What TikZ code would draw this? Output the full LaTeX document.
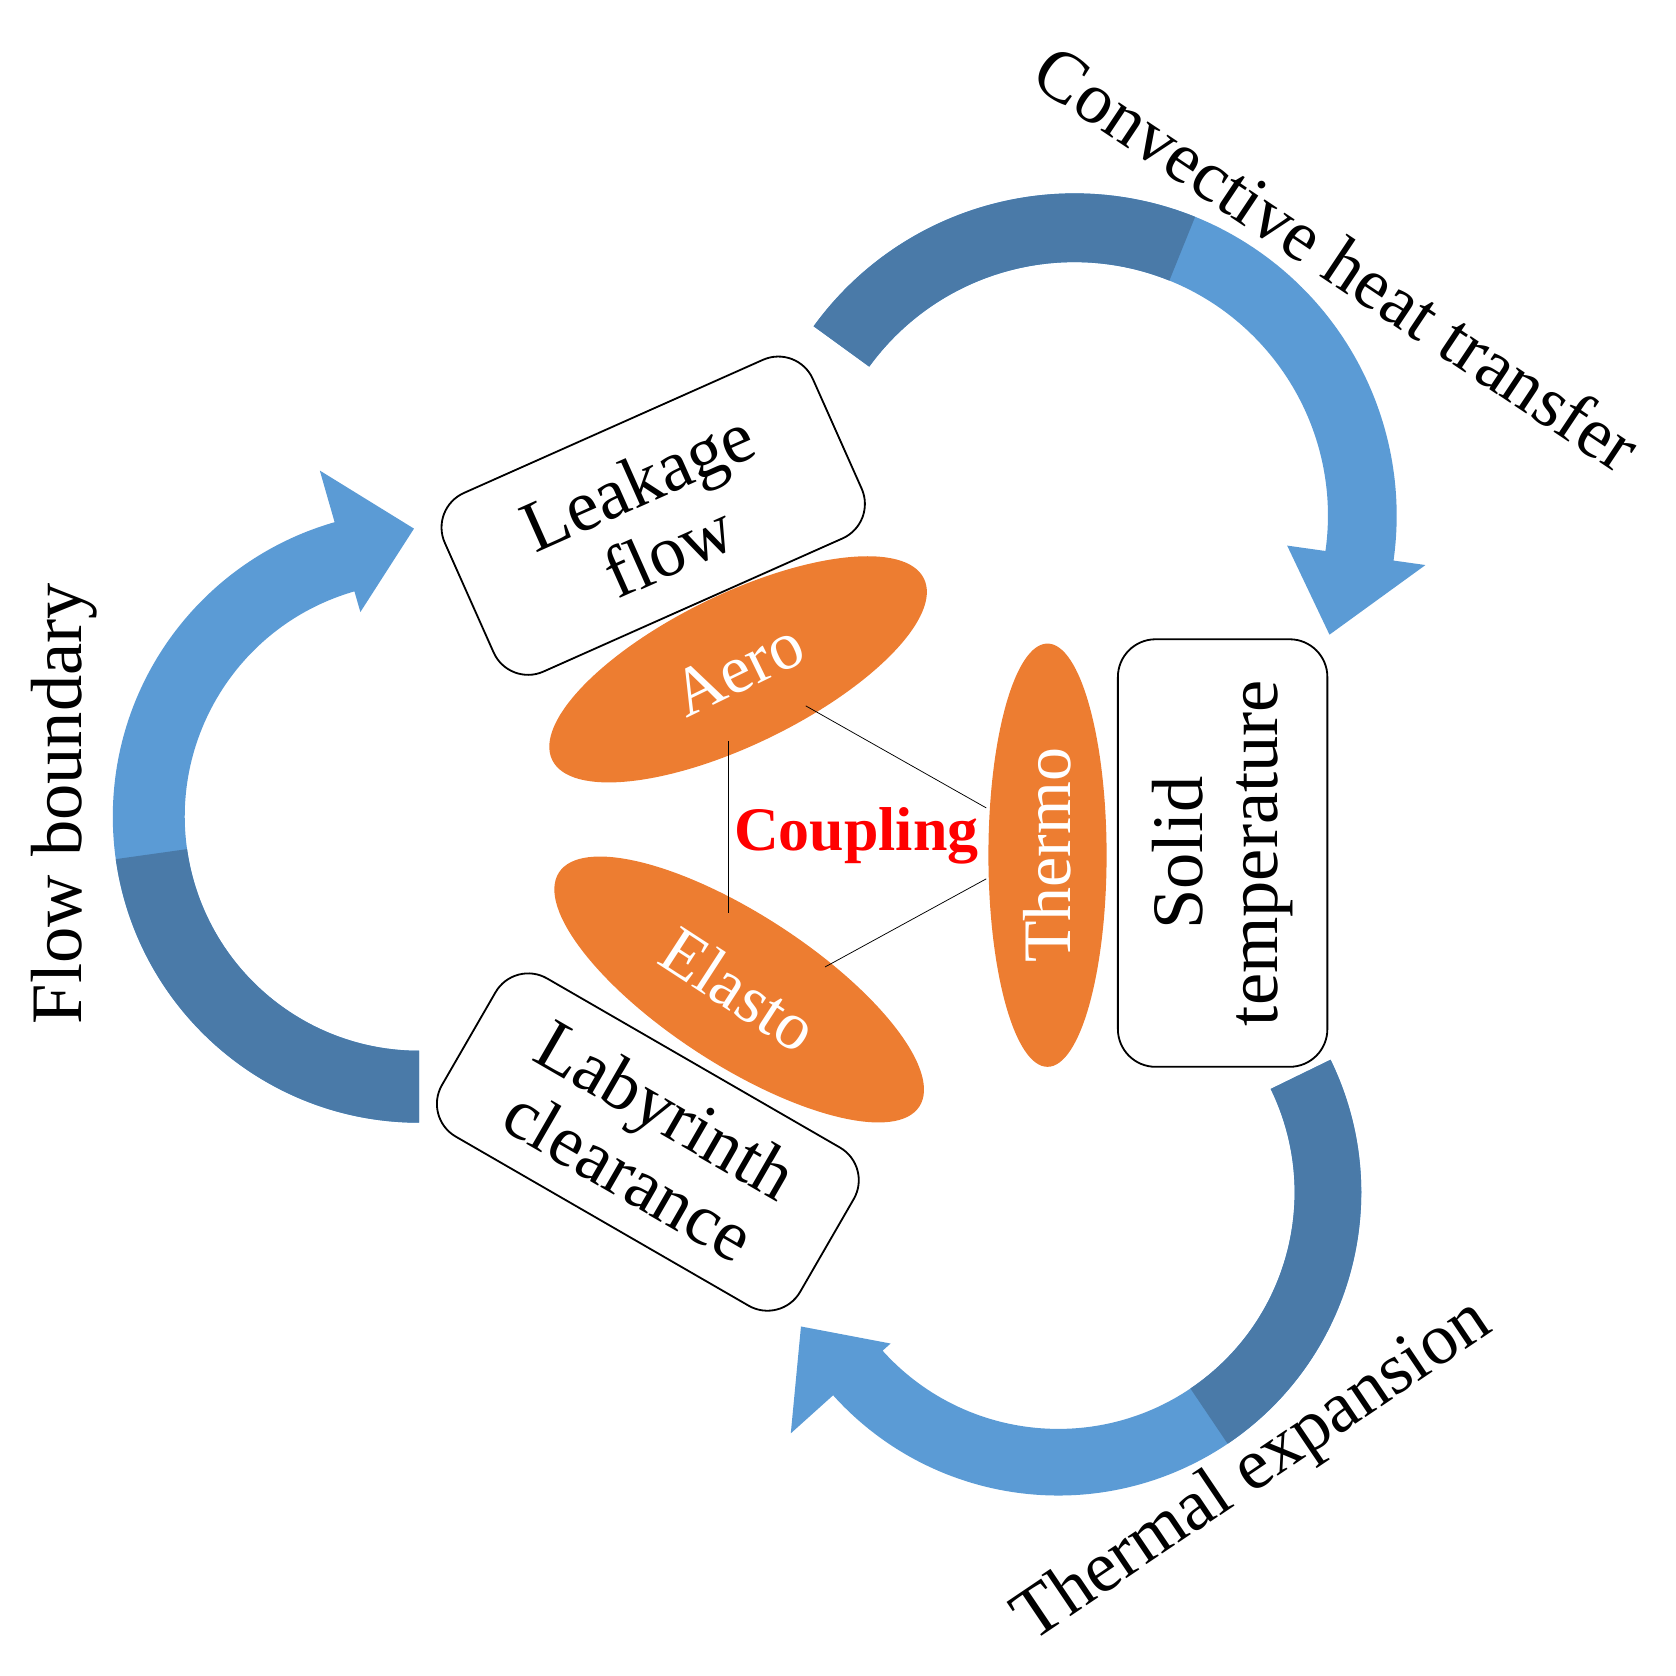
\documentclass[tikz,border=0pt]{standalone}
\usepackage{fontspec}
\setmainfont{Liberation Serif}
\usetikzlibrary{shapes.geometric}
\definecolor{dk}{HTML}{4A7AA8}
\definecolor{lt}{HTML}{5B9BD5}
\definecolor{org}{HTML}{ED7D31}
\newcommand{\carrow}[9]{%
 \begin{scope}[shift={(#1,#2)}]
 \fill[lt] (#3:#6) arc[start angle=#3,end angle=#4,radius=#6] -- (#4:\rbo) -- (#7:#8) -- (#4:#9) -- (#4:#5) arc[start angle=#4,end angle=#3,radius=#5] -- cycle;
 \pgfmathsetmacro{\am}{(#3+#4)/2}
 \fill[dk] (#3:#6) arc[start angle=#3,end angle=\am,radius=#6] -- (\am:#5) arc[start angle=\am,end angle=#3,radius=#5] -- cycle;
 \end{scope}}
\begin{document}
\begin{tikzpicture}[x=0.05cm,y=0.05cm,
 box/.style={draw,line width=2.4pt,rounded corners=50pt,align=center,inner sep=0,font=\fontsize{96}{100}\selectfont},
 ell/.style={ellipse,fill=org,text=white,font=\fontsize{90}{96}\selectfont,inner sep=0},
 lbl/.style={font=\fontsize{96}{100}\selectfont},
 ln/.style={line width=1pt}]
\useasboundingbox (0,0) rectangle (1560,-1560);
% arrows
\def\rbo{330}\carrow{1000}{-480}{144}{-8}{236}{300}{-25}{262}{200}
\def\rbo{335}\carrow{390}{-760}{270}{106}{218}{285}{91}{268}{198}
\def\rbo{335}\carrow{985}{-1110}{26}{-138}{220}{282}{-152.5}{270}{210}
% boxes
\node[box,rotate=24,minimum width={375*1.4226pt},minimum height={182*1.4226pt}] (lf) at (608,-480) {Leakage\\flow};
\node[box,rotate=90,minimum width={398*1.4226pt},minimum height={195*1.4226pt}] (st) at (1138,-794) {Solid\\temperature};
\node[box,rotate=-30,minimum width={385*1.4226pt},minimum height={170*1.4226pt}] (lc) at (603,-1063) {Labyrinth\\clearance};
% ellipses
\node[ell,rotate=26,minimum width={385*1.4226pt},minimum height={140*1.4226pt}] (ae) at (687,-623) {Aero};
\node[ell,rotate=-33,minimum width={400*1.4226pt},minimum height={140*1.4226pt}] (el) at (688,-921) {Elasto};
\node[ell,rotate=90,minimum width={394*1.4226pt},minimum height={110*1.4226pt}] (th) at (975,-796) {Thermo};
\coordinate (p1) at (678,-690); \coordinate (p2) at (678,-850);
\coordinate (p3) at (750,-657); \coordinate (p4) at (918,-752);
\coordinate (p5) at (768,-900); \coordinate (p6) at (918,-818);
\draw[ln] (p1)--(p2); \draw[ln] (p3)--(p4); \draw[ln] (p5)--(p6);
\node[text=red,font=\bfseries\fontsize{82}{86}\selectfont] (cp) at (797,-778) {Coupling};
% labels
\node[lbl,rotate=-33.7] (l1) at (1245,-240) {Convective heat transfer};
\node[lbl,rotate=90] (l2) at (60,-748) {Flow boundary};
\node[lbl,rotate=34] (l3) at (1167,-1370) {Thermal expansion};
\end{tikzpicture}
\end{document}
